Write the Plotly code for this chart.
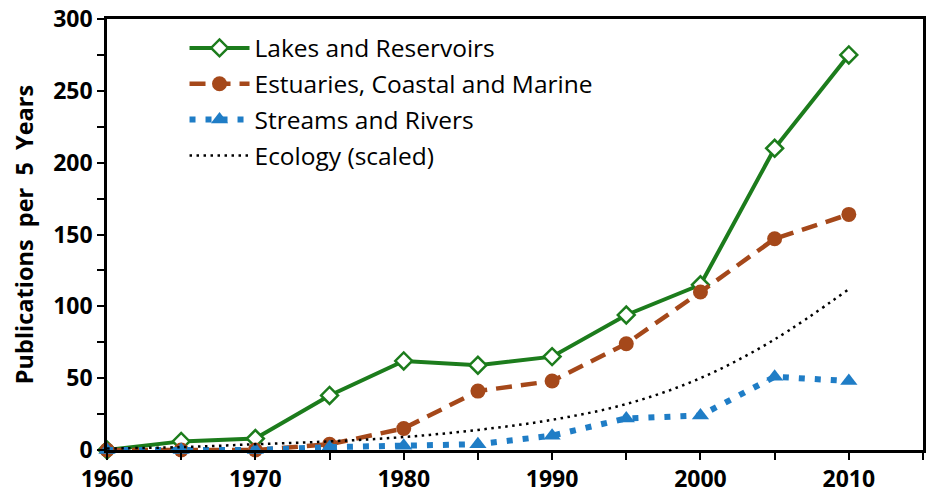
import plotly.graph_objects as go

years = [1960, 1965, 1970, 1975, 1980, 1985, 1990, 1995, 2000, 2005, 2010]
lakes = [0, 6, 8, 38, 62, 59, 65, 94, 115, 210, 275]
estuaries = [0, 0, 0, 4, 15, 41, 48, 74, 110, 147, 164]
streams = [0, 0, 0, 2, 3, 4, 10, 22, 24, 51, 48]
ecology = [1, 2, 4, 6, 9, 14, 21, 32, 50, 77, 112]

x_ticks = [1960, 1970, 1980, 1990, 2000, 2010]
y_ticks = [0, 50, 100, 150, 200, 250, 300]

GREEN = "#1c7c1c"
BROWN = "#a5481a"
BLUE = "#1f7dc6"

fig = go.Figure()
fig.add_trace(go.Scatter(
    x=years, y=lakes, name="Lakes and Reservoirs", mode="lines+markers",
    legendgroup="a",
    line=dict(color=GREEN, width=4),
    marker=dict(symbol="diamond", size=13, color="white", line=dict(color=GREEN, width=2.5)),
    cliponaxis=False))
fig.add_trace(go.Scatter(
    x=years, y=estuaries, name="Estuaries, Coastal and Marine", mode="lines+markers",
    legendgroup="b",
    line=dict(color=BROWN, width=4.5, dash="16px,9px"),
    marker=dict(symbol="circle", size=15, color=BROWN),
    cliponaxis=False))
fig.add_trace(go.Scatter(
    x=years, y=streams, name="Streams and Rivers", mode="lines+markers",
    legendgroup="c",
    line=dict(color=BLUE, width=6, dash="6px,10px"),
    marker=dict(symbol="triangle-up", size=15, color=BLUE),
    cliponaxis=False))
fig.add_trace(go.Scatter(
    x=years, y=ecology, name="Ecology (scaled)", mode="lines",
    legendgroup="d",
    line=dict(color="black", width=2.5, dash="2.5px,4.5px", shape="spline"),
    cliponaxis=False))

tickfont = dict(family="Open Sans", size=23, color="black", weight="bold")

fig.update_layout(
    width=928, height=496,
    margin=dict(l=107, r=2, t=15, b=43),
    paper_bgcolor="white", plot_bgcolor="white",
    showlegend=True,
    legend=dict(x=0.095, y=0.985, xanchor="left", yanchor="top",
                font=dict(family="Open Sans", size=24.5, color="black"),
                bgcolor="rgba(0,0,0,0)", traceorder="grouped", tracegroupgap=1, itemwidth=60),
    xaxis=dict(range=[1960, 2015], tickvals=x_ticks, ticktext=[str(v) for v in x_ticks],
               ticks="outside", ticklen=7, tickwidth=2, tickcolor="black",
               minor=dict(dtick=5, tick0=1960, ticks="outside", ticklen=7, tickwidth=2, tickcolor="black"),
               showline=True, linewidth=2.5, linecolor="black", mirror=True,
               showgrid=False, zeroline=False, tickfont=tickfont, ticklabeloverflow="allow"),
    yaxis=dict(range=[0, 300], tickvals=y_ticks,
               ticks="outside", ticklen=7, tickwidth=2, tickcolor="black",
               minor=dict(dtick=25, tick0=0, ticks="outside", ticklen=7, tickwidth=2, tickcolor="black"),
               showline=True, linewidth=2.5, linecolor="black", mirror=True,
               showgrid=False, zeroline=False, tickfont=tickfont, ticklabeloverflow="allow",
               title=dict(text="Publications  per  5  Years",
                          font=dict(family="Open Sans", size=23.5, color="black", weight="bold"),
                          standoff=13)),
)

fig.write_html("out.html", config={"displayModeBar": False},
               post_script="document.body.style.margin='0';document.body.style.overflow='hidden';")
